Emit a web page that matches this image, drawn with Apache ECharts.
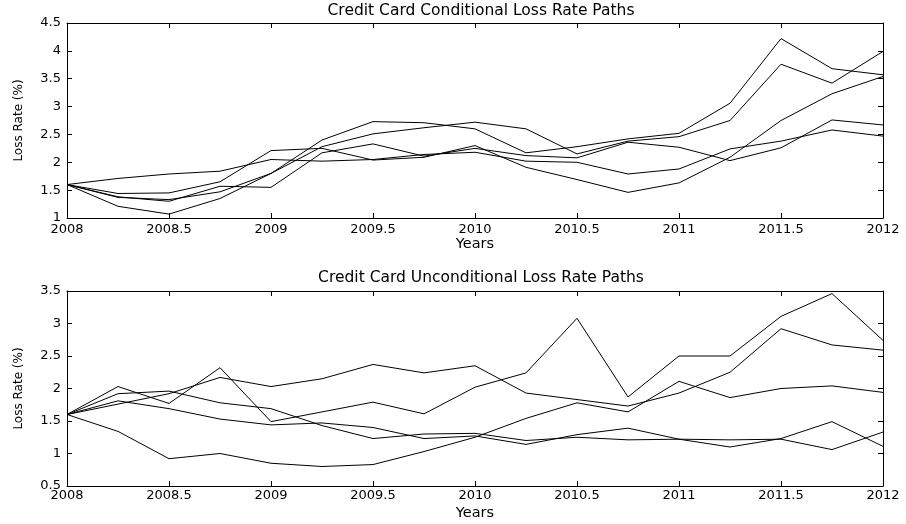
<!DOCTYPE html>
<html>
<head>
<meta charset="utf-8">
<title>Credit Card Loss Rate Paths</title>
<script src="https://cdn.jsdelivr.net/npm/echarts@6/dist/echarts.min.js"></script>
<style>
  html, body { margin: 0; padding: 0; background: #fff; }
  #chart { width: 906px; height: 524px; }
</style>
</head>
<body>
<div id="chart"></div>
<script>
// Quarterly time points (years)
const quarters = [2008, 2008.25, 2008.5, 2008.75, 2009, 2009.25, 2009.5, 2009.75, 2010,
                  2010.25, 2010.5, 2010.75, 2011, 2011.25, 2011.5, 2011.75, 2012];

// Conditional loss rate paths (%)
const condPath1 = [1.60, 1.71, 1.79, 1.84, 2.05, 2.02, 2.05, 2.14, 2.18, 2.02, 2.00, 1.79, 1.88, 2.24, 2.38, 2.58, 2.47];
const condPath2 = [1.60, 1.44, 1.45, 1.65, 2.21, 2.25, 2.04, 2.09, 2.30, 1.91, 1.69, 1.46, 1.63, 2.09, 2.75, 3.23, 3.54];
const condPath3 = [1.60, 1.38, 1.30, 1.57, 1.55, 2.17, 2.33, 2.11, 2.25, 2.12, 2.08, 2.36, 2.27, 2.03, 2.26, 2.76, 2.67];
const condPath4 = [1.60, 1.37, 1.33, 1.47, 1.80, 2.40, 2.73, 2.71, 2.60, 2.17, 2.28, 2.42, 2.52, 3.06, 4.22, 3.68, 3.57];
const condPath5 = [1.60, 1.21, 1.07, 1.35, 1.80, 2.28, 2.51, 2.62, 2.72, 2.60, 2.15, 2.38, 2.46, 2.75, 3.76, 3.42, 3.99];

// Unconditional loss rate paths (%)
const uncondPath1 = [1.60, 2.03, 1.77, 2.32, 1.49, 1.64, 1.79, 1.61, 2.02, 2.24, 3.08, 1.87, 2.50, 2.50, 3.11, 3.46, 2.74];
const uncondPath2 = [1.60, 1.76, 1.92, 2.17, 2.03, 2.15, 2.37, 2.24, 2.35, 1.93, 1.83, 1.73, 1.93, 2.25, 2.92, 2.67, 2.59];
const uncondPath3 = [1.60, 1.92, 1.96, 1.78, 1.69, 1.43, 1.23, 1.30, 1.31, 1.20, 1.25, 1.21, 1.22, 1.21, 1.22, 1.06, 1.33];
const uncondPath4 = [1.60, 1.81, 1.69, 1.53, 1.44, 1.47, 1.40, 1.23, 1.27, 1.14, 1.29, 1.39, 1.22, 1.10, 1.23, 1.49, 1.11];
const uncondPath5 = [1.60, 1.34, 0.92, 1.00, 0.85, 0.80, 0.83, 1.03, 1.25, 1.54, 1.78, 1.64, 2.11, 1.86, 2.00, 2.04, 1.94];

// Axis settings
const titles = ['Credit Card Conditional Loss Rate Paths', 'Credit Card Unconditional Loss Rate Paths'];
const xLabel = 'Years';
const yLabel = 'Loss Rate (%)';
const xRange = [2008, 2012, 0.5];
const yRanges = [[1, 4.5, 0.5], [0.5, 3.5, 0.5]];

const condPaths = [condPath1, condPath2, condPath3, condPath4, condPath5];
const uncondPaths = [uncondPath1, uncondPath2, uncondPath3, uncondPath4, uncondPath5];

const FONT = 'DejaVu Sans';
const INK = '#000';

const grids = [
  { left: 67, right: 23, top: 23, height: 195 },
  { left: 67, right: 23, top: 291, height: 195 }
];

// plain number text, no thousands separator
function plain(v) { return String(+v.toFixed(2)); }

function xAxes(gridIndex, labelMargin, nameGap) {
  const base = {
    type: 'value', gridIndex: gridIndex,
    min: xRange[0], max: xRange[1], interval: xRange[2],
    axisLine: { show: true, onZero: false, lineStyle: { color: INK, width: 1 } },
    axisTick: { show: true, inside: true, length: 5, lineStyle: { color: INK } },
    splitLine: { show: false }
  };
  return [
    Object.assign({}, base, {
      position: 'bottom',
      axisLabel: { color: INK, fontFamily: FONT, fontSize: 13, margin: labelMargin, formatter: plain },
      name: xLabel, nameLocation: 'middle', nameGap: nameGap,
      nameTextStyle: { color: INK, fontFamily: FONT, fontSize: 14.5 }
    }),
    Object.assign({}, base, { position: 'top', axisLabel: { show: false } })
  ];
}

function yAxes(gridIndex, range) {
  const base = {
    type: 'value', gridIndex: gridIndex,
    min: range[0], max: range[1], interval: range[2],
    axisLine: { show: true, onZero: false, lineStyle: { color: INK, width: 1 } },
    axisTick: { show: true, inside: true, length: 5, lineStyle: { color: INK } },
    splitLine: { show: false }
  };
  return [
    Object.assign({}, base, {
      position: 'left',
      axisLabel: { color: INK, fontFamily: FONT, fontSize: 13, margin: 6, formatter: plain },
      name: yLabel, nameLocation: 'middle', nameGap: 42, nameRotate: 90,
      nameTextStyle: { color: INK, fontFamily: FONT, fontSize: 12 }
    }),
    Object.assign({}, base, { position: 'right', axisLabel: { show: false } })
  ];
}

function pathSeries(paths, axisIndex) {
  return paths.map(function (vals, k) {
    return {
      name: 'path ' + (k + 1),
      type: 'line',
      xAxisIndex: axisIndex, yAxisIndex: axisIndex,
      data: quarters.map(function (q, i) { return [q, vals[i]]; }),
      showSymbol: false, symbol: 'none',
      lineStyle: { color: INK, width: 1 },
      silent: true
    };
  });
}

const chart = echarts.init(document.getElementById('chart'), null, { renderer: 'canvas' });
chart.setOption({
  animation: false,
  backgroundColor: '#fff',
  title: [
    { text: titles[0], left: 476, top: -2, textAlign: 'center',
      textStyle: { color: INK, fontFamily: FONT, fontSize: 15.5, fontWeight: 'normal' } },
    { text: titles[1], left: 476, top: 265, textAlign: 'center',
      textStyle: { color: INK, fontFamily: FONT, fontSize: 15.5, fontWeight: 'normal' } }
  ],
  grid: grids,
  xAxis: xAxes(0, 5, 19).concat(xAxes(1, 3, 20)),
  // axis order: [grid0 bottom, grid0 top, grid1 bottom, grid1 top]
  yAxis: yAxes(0, yRanges[0]).concat(yAxes(1, yRanges[1])),
  series: pathSeries(condPaths, 0).concat(pathSeries(uncondPaths, 2))
});
</script>
</body>
</html>
